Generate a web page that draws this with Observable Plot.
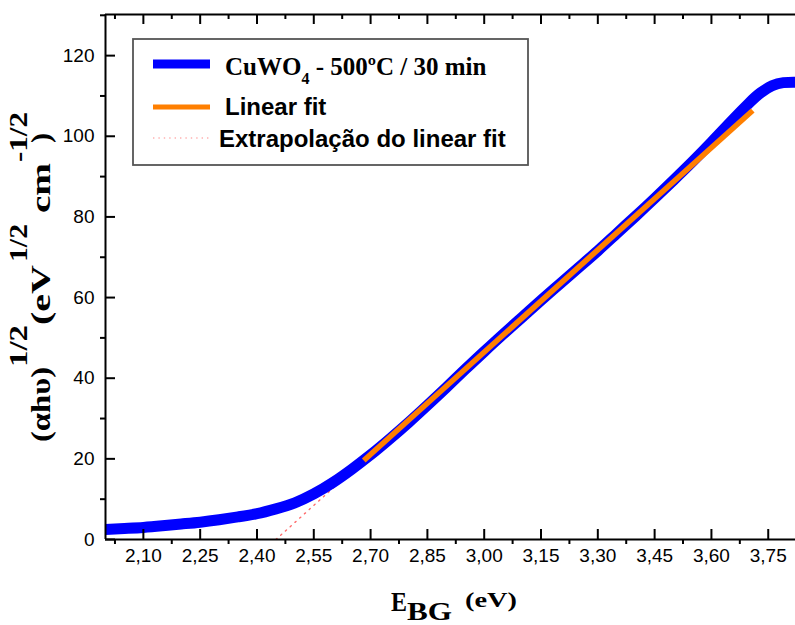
<!DOCTYPE html>
<html><head><meta charset="utf-8">
<script src="https://cdn.jsdelivr.net/npm/d3@7"></script>
<script src="https://cdn.jsdelivr.net/npm/@observablehq/plot@0.6"></script>
<style>body{margin:0;background:#fff} #chart svg{display:block}</style>
</head><body><div id="chart"></div>
<script>
// ---- data ----
const energy = [2.00,2.05,2.10,2.15,2.20,2.25,2.30,2.35,2.40,2.45,2.50,2.55,2.60,2.65,2.70,2.75,2.80,2.85,2.90,2.95,3.00,3.05,3.10,3.15,3.20,3.25,3.30,3.35,3.40,3.45,3.50,3.55,3.60,3.65,3.70,3.73,3.76,3.79,3.822];
const absorb = [2.5,2.75,3.0,3.4,3.85,4.3,4.9,5.6,6.4,7.6,9.1,11.3,14.1,17.4,21.0,24.9,29.0,33.3,37.7,42.2,46.6,50.9,55.1,59.3,63.4,67.5,71.6,75.9,80.2,84.6,89.1,93.7,98.5,103.5,108.3,110.8,112.5,113.3,113.4];
const fitX = [2.682, 3.709];
const fitY = [19.6, 106.4];
const extrapX = [2.450, 2.682];
const extrapY = [0, 19.6];
const xMajor = [2.10,2.25,2.40,2.55,2.70,2.85,3.00,3.15,3.30,3.45,3.60,3.75];
const xTickLabels = ["2,10","2,25","2,40","2,55","2,70","2,85","3,00","3,15","3,30","3,45","3,60","3,75"];
const xMinor = [2.025,2.175,2.325,2.475,2.625,2.775,2.925,3.075,3.225,3.375,3.525,3.675];
const yMajor = [0,20,40,60,80,100,120];
const yMinor = [10,30,50,70,90,110,130];
const xDomain = [2.0, 3.822];
const yDomain = [0, 130.2];
const legendLabels = ["CuWO", "4", " - 500ºC / 30 min", "Linear fit", "Extrapolação do linear fit"];

// ---- layout ----
const W = 795, H = 625, mL = 105, mR = 0, mT = 14, mB = 86;
const plotW = W - mL - mR, plotH = H - mT - mB;

const curve = energy.map((x, i) => ({x, y: absorb[i]}));
const fit = fitX.map((x, i) => ({x, y: fitY[i]}));
const extrap = extrapX.map((x, i) => ({x, y: extrapY[i]}));

const sans = "'Liberation Sans', Arial, sans-serif";
const serif = "'Liberation Serif', 'Times New Roman', serif";

const plot = Plot.plot({
  width: W, height: H,
  marginLeft: mL, marginRight: mR, marginTop: mT, marginBottom: mB,
  x: {domain: xDomain, axis: null},
  y: {domain: yDomain, axis: null},
  style: {background: "white", fontFamily: sans, fontSize: "19px", color: "black"},
  marks: [
    Plot.line(extrap, {x: "x", y: "y", stroke: "#ff6a6a", strokeWidth: 1.4, strokeDasharray: "1.4,5", clip: true}),
    Plot.line(curve, {x: "x", y: "y", stroke: "#0000ff", strokeWidth: 11, curve: "natural", clip: true}),
    Plot.line(fit, {x: "x", y: "y", stroke: "#ff7f00", strokeWidth: 5.5, strokeLinecap: "butt"}),
    // frame lines
    Plot.ruleX([xDomain[0]], {stroke: "black", strokeWidth: 2}),
    Plot.ruleY([yDomain[0]], {stroke: "black", strokeWidth: 2}),
    Plot.ruleY([yDomain[1]], {stroke: "black", strokeWidth: 2}),
    // bottom ticks: major inward, minor outward
    Plot.ruleX(xMajor, {stroke: "black", strokeWidth: 2, insetTop: plotH - 10}),
    Plot.ruleX(xMinor, {stroke: "black", strokeWidth: 2, insetTop: plotH, insetBottom: -5}),
    // top ticks inward
    Plot.ruleX(xMajor, {stroke: "black", strokeWidth: 2, insetBottom: plotH - 10}),
    Plot.ruleX(xMinor, {stroke: "black", strokeWidth: 2, insetBottom: plotH - 5}),
    // left ticks: major inward, minor outward
    Plot.ruleY(yMajor, {stroke: "black", strokeWidth: 2, insetRight: plotW - 10}),
    Plot.ruleY(yMinor, {stroke: "black", strokeWidth: 2, insetRight: plotW, insetLeft: -5}),
    // tick labels
    Plot.text(xMajor, {x: d => d, text: (d, i) => xTickLabels[i], frameAnchor: "bottom", dy: 22, fill: "black"}),
    Plot.text(yMajor, {y: d => d, text: d => String(d), frameAnchor: "left", dx: -11, textAnchor: "end", fill: "black"})
  ]
});

const svg = d3.select(plot);

// ---- legend ----
const lg = svg.append("g").attr("text-anchor", "start");
lg.append("rect").attr("x", 133).attr("y", 39).attr("width", 395).attr("height", 126)
  .attr("fill", "white").attr("stroke", "#555").attr("stroke-width", 1.8);
lg.append("line").attr("x1", 153).attr("x2", 210).attr("y1", 64).attr("y2", 64)
  .attr("stroke", "#0000ff").attr("stroke-width", 9);
lg.append("line").attr("x1", 153).attr("x2", 210).attr("y1", 107).attr("y2", 107)
  .attr("stroke", "#ff7f00").attr("stroke-width", 5);
lg.append("line").attr("x1", 153).attr("x2", 210).attr("y1", 138).attr("y2", 138)
  .attr("stroke", "#ff8a8a").attr("stroke-width", 1.2).attr("stroke-dasharray", "1.4,4");
const t1 = lg.append("text").attr("x", 225).attr("y", 75)
  .attr("font-family", serif).attr("font-weight", "bold").attr("font-size", 25).attr("fill", "black");
t1.append("tspan").text(legendLabels[0]);
t1.append("tspan").attr("font-size", 16).attr("dy", 9).text(legendLabels[1]);
t1.append("tspan").attr("dy", -9).text(legendLabels[2]);
lg.append("text").attr("x", 225).attr("y", 115).attr("font-family", sans).attr("font-weight", "bold")
  .attr("font-size", 24).attr("fill", "black").text(legendLabels[3]);
lg.append("text").attr("x", 219).attr("y", 147).attr("font-family", sans).attr("font-weight", "bold")
  .attr("font-size", 24).attr("fill", "black").text(legendLabels[4]);

// ---- x axis title ----
const xt = svg.append("g").attr("text-anchor", "start").attr("font-family", serif).attr("font-weight", "bold").attr("fill", "black");
xt.append("text").attr("x", 391).attr("y", 611).attr("font-size", 27).attr("textLength", 16).attr("lengthAdjust", "spacingAndGlyphs").text("E");
xt.append("text").attr("x", 407).attr("y", 620).attr("font-size", 25).attr("textLength", 45).attr("lengthAdjust", "spacingAndGlyphs").text("BG");
xt.append("text").attr("x", 465).attr("y", 607).attr("font-size", 20.5).attr("textLength", 52).attr("lengthAdjust", "spacingAndGlyphs").text("(eV)");

// ---- y axis title (rotated) ----
const yt = svg.append("g").attr("transform", "translate(50,0) rotate(-90)").attr("text-anchor", "start")
  .attr("font-family", serif).attr("font-weight", "bold").attr("fill", "black");
const yParts = [
  {t: "(\u03b1h\u03c5)", s: 442, len: 75, up: 0, fs: 28},
  {t: "1/2", s: 367, len: 42, up: -23, fs: 25},
  {t: "(eV", s: 325, len: 60, up: 0, fs: 28},
  {t: "1/2", s: 262, len: 38, up: -23, fs: 25},
  {t: "cm", s: 213, len: 50, up: 0, fs: 28},
  {t: "-1/2", s: 162, len: 50, up: -23, fs: 25},
  {t: ")", s: 143, len: 10, up: 0, fs: 28}
];
yParts.forEach(p => {
  yt.append("text").attr("x", -p.s).attr("y", p.up).attr("font-size", p.fs)
    .attr("textLength", p.len).attr("lengthAdjust", "spacingAndGlyphs").text(p.t);
});

document.getElementById("chart").appendChild(plot);
</script>
</body></html>
